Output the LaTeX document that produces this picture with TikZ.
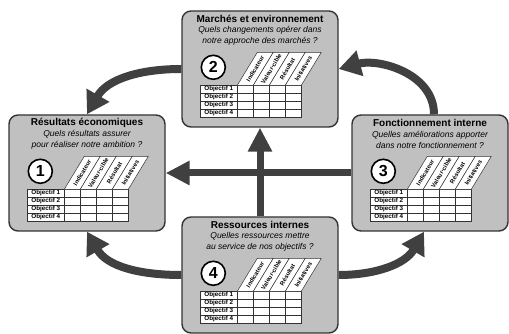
\documentclass[tikz,border=0pt]{standalone}
\usepackage{fontspec}
\setmainfont{Liberation Sans}
\usetikzlibrary{
	calc,
	arrows.meta
}

\definecolor{boxgray}{HTML}{C0C0C0}
\definecolor{edgegray}{HTML}{333333}
\definecolor{arrowgray}{HTML}{404040}

\newcommand{\planbox}[5]{
	\node(#1)[planframe] at (#2) {};
	\node(#1-title)[boxtitle] at ($(#1.north) + (0, -9)$) {#3};
	\node(#1-quest)[boxquest] at ($(#1.north) + (0, -25.5)$) {#4};
	\begin{scope}[shift={(#1.north west)}]
		\node(#1-num)[numcircle] at (32, -57) {#5};
		\draw[tabline, fill=white] (19, -75) rectangle (120, -107);
		\foreach \yy in {-83, -91, -99}
			\draw[tabline] (19, \yy) -- (120, \yy);
		\foreach \xx in {56, 72, 88, 104}
			\draw[tabline] (\xx, -75) -- (\xx, -107);
		\foreach \r in {1, ..., 4}
			\node(#1-obj\r)[objcell] at (37.5, -71 - 8*\r) {Objectif \r};
		\foreach \lab [count=\k from 0] in {Indicateur, Valeur-cible, Résultat, Initiatives} {
			\draw[tabline, fill=white] (56 + 16*\k, -75) -- ++(16, 0) -- ++(20, 33) -- ++(-16, 0) -- cycle;
			\node(#1-head\k)[colhead] at (74 + 16*\k, -58.5) {\lab};
		}
	\end{scope}
}

\begin{document}
\begin{tikzpicture}[
	x=1pt, y=1pt,
	planframe/.style={draw=edgegray, line width=1.4pt, fill=boxgray, rounded corners=9pt,
		minimum width=156pt, minimum height=116pt},
	boxtitle/.style={inner sep=0, font=\fontsize{10}{12}\selectfont\bfseries},
	boxquest/.style={inner sep=0, align=center, font=\fontsize{8.5}{10.5}\selectfont\itshape},
	numcircle/.style={circle, draw=black, line width=1.6pt, fill=white, minimum size=24pt,
		inner sep=0, font=\fontsize{16}{16}\selectfont\bfseries},
	tabline/.style={draw=edgegray, line width=0.5pt},
	objcell/.style={inner sep=0, font=\fontsize{6.3}{6.3}\selectfont\bfseries},
	colhead/.style={inner sep=0, rotate=58.8, font=\fontsize{6}{6}\selectfont\bfseries},
	bigarrow/.style={draw=arrowgray, line width=7pt, -{Triangle[length=24pt, width=23pt]}},
	bendarrow/.style={draw=arrowgray, line width=8pt, -{Triangle[length=22pt, width=25pt]}}
]
	\useasboundingbox (0, 0) rectangle (509, 334);

	\planbox{results}{87, 161}{Résultats économiques}{Quels résultats assurer\\pour réaliser notre ambition ?}{1}
	\planbox{market}{260, 265}{Marchés et environnement}{Quels changements opérer dans\\notre approche des marchés ?}{2}
	\planbox{internal}{430, 161}{Fonctionnement interne}{Quelles améliorations apporter\\dans notre fonctionnement ?}{3}
	\planbox{resources}{260, 59}{Ressources internes}{Quelles ressources mettre\\au service de nos objectifs ?}{4}

	% central arrows
	\draw[bigarrow] (resources.north) -- (market.south);
	\draw[bigarrow] (internal.west) -- (results.east);

	% arrows round the outside
	\draw[bendarrow] (market.west) to[out=180, in=60] (results.north);
	\draw[bendarrow] ([xshift=4pt]internal.north) to[out=90, in=15] (market.east);
	\draw[bendarrow] (resources.west) to[out=180, in=-60] (results.south);
	\draw[bendarrow] (resources.east) to[out=0, in=-120] ([xshift=-6pt]internal.south);
\end{tikzpicture}
\end{document}
